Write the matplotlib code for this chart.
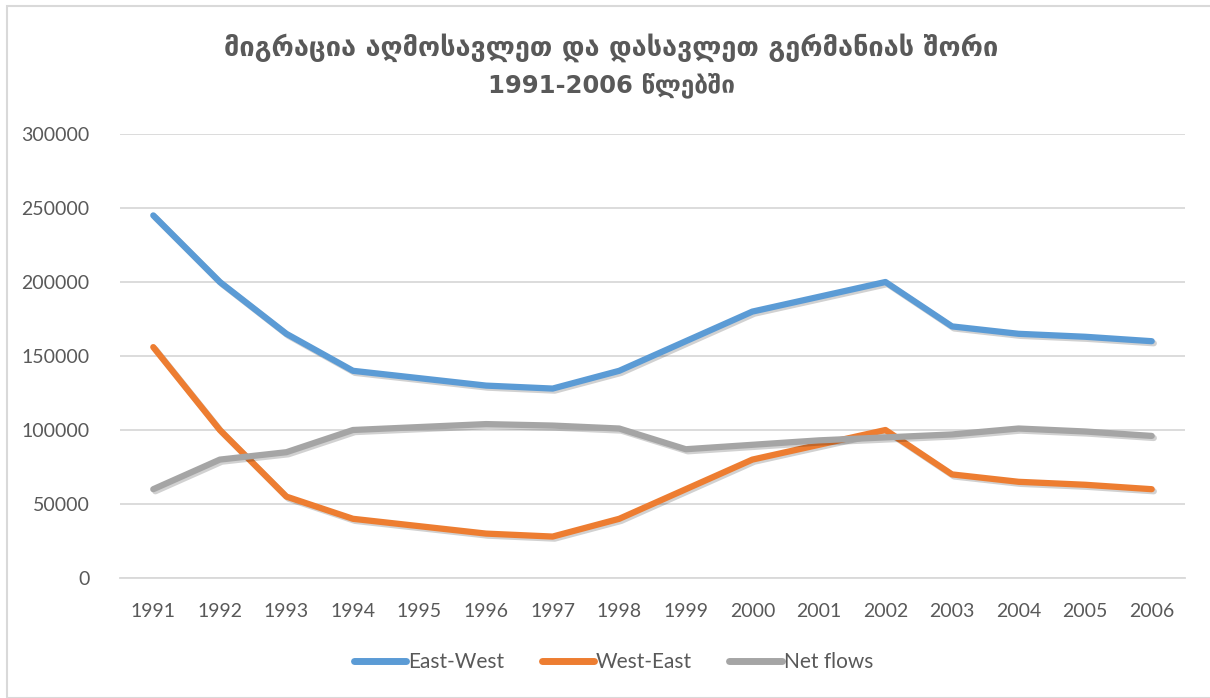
import matplotlib.pyplot as plt
import matplotlib.patheffects as pe
from matplotlib.patches import Rectangle

years = [1991, 1992, 1993, 1994, 1995, 1996, 1997, 1998,
         1999, 2000, 2001, 2002, 2003, 2004, 2005, 2006]
east_west = [245000, 200000, 165000, 140000, 135000, 130000, 128000, 140000,
             160000, 180000, 190000, 200000, 170000, 165000, 163000, 160000]
west_east = [156000, 100000, 55000, 40000, 35000, 30000, 28000, 40000,
             60000, 80000, 90000, 100000, 70000, 65000, 63000, 60000]
net_flows = [60000, 80000, 85000, 100000, 102000, 104000, 103000, 101000,
             87000, 90000, 93000, 95000, 97000, 101000, 99000, 96000]

series = [("East-West", east_west, "#5b9bd5"),
          ("West-East", west_east, "#ed7d31"),
          ("Net flows", net_flows, "#a5a5a5")]

text_col = "#595959"
plt.rcParams['font.family'] = ['Lato', 'DejaVu Sans']

fig = plt.figure(figsize=(12.1, 6.98), dpi=100)
ax = fig.add_axes([120 / 1210, 120 / 698, 1065 / 1210, 444 / 698])

# thin frame around the chart area
fig.patches.append(Rectangle((7 / 1210, 0), 1.2, 1 - 6 / 698, transform=fig.transFigure,
                             fill=False, edgecolor="#d9d9d9", linewidth=1.5))

x = list(range(len(years)))
shadow = [pe.SimpleLineShadow(offset=(1.5, -1.5), shadow_color="black", alpha=0.18), pe.Normal()]
for name, vals, col in series:
    ax.plot(x, vals, color=col, linewidth=4.5, solid_capstyle="round",
            solid_joinstyle="round", label=name, path_effects=shadow)

ax.set_xlim(-0.5, len(years) - 0.5)
ax.set_ylim(0, 300000)
ax.set_yticks(range(0, 300001, 50000))
ax.set_xticks(x)
ax.set_xticklabels([str(y) for y in years])
ax.grid(axis="y", color="#d9d9d9", linewidth=1.3)
ax.set_axisbelow(True)
for s in ["top", "right", "left"]:
    ax.spines[s].set_visible(False)
ax.spines["bottom"].set_color("#d9d9d9")
ax.spines["bottom"].set_linewidth(1.3)
ax.tick_params(length=0, labelsize=14, labelcolor=text_col)
ax.tick_params(axis="x", pad=18)
ax.tick_params(axis="y", pad=22)

fig.text(0.505, 1 - 48 / 698, "მიგრაცია აღმოსავლეთ და დასავლეთ გერმანიას შორი",
         ha="center", va="center", fontsize=19.5, fontweight="bold", color=text_col,
         family=['DejaVu Sans'])
fig.text(0.505, 1 - 85 / 698, "1991-2006 წლებში",
         ha="center", va="center", fontsize=17.5, fontweight="bold", color=text_col,
         family=['DejaVu Sans'])

leg = fig.legend(loc="center", bbox_to_anchor=(0.507, 1 - 662 / 698), ncol=3,
                 frameon=False, fontsize=15, handlelength=2.5, handletextpad=0.1,
                 columnspacing=1.8, labelcolor=text_col)
for h in leg.get_lines():
    h.set_path_effects([])
    h.set_linewidth(5)

fig.savefig("out.png", dpi=100)
